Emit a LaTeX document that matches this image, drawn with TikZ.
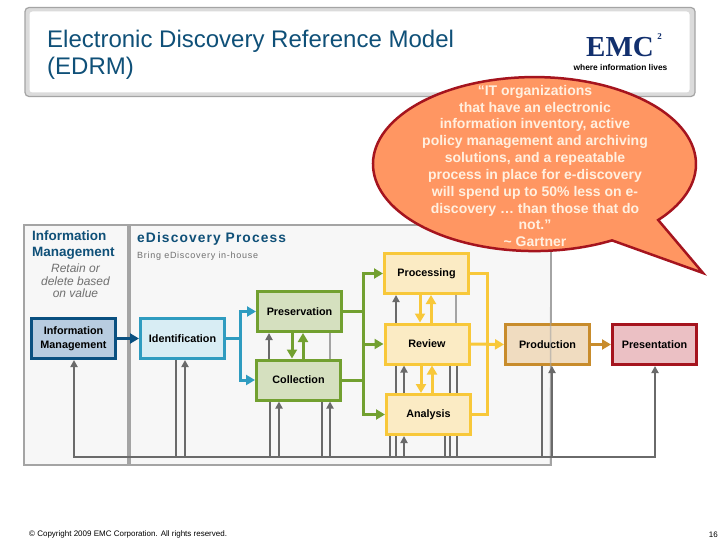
\documentclass[tikz,border=0pt]{standalone}
\usepackage{fontspec}
\setmainfont{Liberation Sans}
\newfontfamily\logofont{Liberation Serif}
\newfontfamily\spacedfont[LetterSpace=8]{Liberation Sans}
\usepackage{xcolor}
\usetikzlibrary{arrows.meta, positioning, calc}

\definecolor{headblue}{HTML}{0F5078}
\definecolor{sigGrey}{HTML}{6A6A6A}
\definecolor{panelGrey}{HTML}{A4A4A4}
\definecolor{noteGrey}{HTML}{707070}
\definecolor{logoBlue}{HTML}{12306E}
\definecolor{infoDraw}{HTML}{0A5080}
\definecolor{infoFill}{HTML}{B8CCE0}
\definecolor{identDraw}{HTML}{2F9CC0}
\definecolor{identFill}{HTML}{D8EDF4}
\definecolor{greenDraw}{HTML}{72A030}
\definecolor{greenFill}{HTML}{D5E0BF}
\definecolor{yellowDraw}{HTML}{F8C83A}
\definecolor{yellowFill}{HTML}{FBEBC4}
\definecolor{prodDraw}{HTML}{C88C2C}
\definecolor{prodFill}{HTML}{F0DCC0}
\definecolor{quoteRed}{HTML}{A5141E}
\definecolor{presFill}{HTML}{EBC0C4}
\definecolor{quoteFill}{HTML}{FF9662}
\definecolor{quoteText}{HTML}{FFF0E0}

\tikzset{
    stagebox/.style={draw, line width=3pt, minimum width=84pt, minimum height=40pt, inner sep=0pt,
        align=center, text=black, font=\fontsize{10.8}{13.5}\selectfont\bfseries},
    panelbox/.style={draw=panelGrey, line width=1.5pt, fill=black!3, inner sep=0pt},
    sigline/.style={draw=sigGrey, line width=2.4pt},
    sigarrow/.style={sigline, -{Triangle[length=7pt, width=7pt]}},
    palearrow/.style={draw=panelGrey, line width=2.4pt},
    flow/.style={line width=3pt, -{Triangle[length=9pt, width=10pt]}},
    flowline/.style={line width=3pt}
}

\begin{document}
\begin{tikzpicture}[x=1pt, y=-1pt]
    \useasboundingbox (0,0) rectangle (720,540);
    \fill[white] (0,0) rectangle (720,540);

    % TITLE BAR
    \node (TitleBar) [draw=panelGrey, line width=1.2pt, fill=black!14, rounded corners=4pt,
        minimum width=670pt, minimum height=89pt, inner sep=0pt] at (360,52) {};
    \node (TitleInner) [fill=white, rounded corners=3pt, minimum width=660pt, minimum height=81pt,
        inner sep=0pt] at (359.5,52) {};
    \node (Title) [anchor=west, align=left, text=headblue, inner sep=0pt, font=\fontsize{24}{27}\selectfont] at (47,54.5)
        {Electronic Discovery Reference Model\\(EDRM)};
    \node (Logo) [text=logoBlue, font=\logofont\bfseries\fontsize{29}{29}\selectfont, inner sep=0pt]
        at (620,47.5) {EMC};
    \node (LogoTwo) [text=logoBlue, font=\logofont\bfseries\fontsize{9}{9}\selectfont, inner sep=0pt]
        at (659.5,37) {2};
    \node (Tagline) [font=\bfseries\fontsize{8.4}{9}\selectfont, inner sep=0pt] at (620.5,67) {where information lives};

    % PANELS
    \node (InfoPanel) [panelbox, minimum width=104pt, minimum height=240pt] at (76,345) {};
    \node (ProcPanel) [panelbox, minimum width=421pt, minimum height=240pt] at (340.5,345) {};
    \node (InfoHead) [anchor=north west, align=left, text=headblue, font=\bfseries\fontsize{13.5}{16}\selectfont,
        inner sep=0pt] at (32,230.5) {Information\\Management};
    \node (InfoNote) [anchor=north, align=center, text=noteGrey, font=\itshape\fontsize{12}{12.8}\selectfont,
        inner sep=0pt] at (75.5,263.5) {Retain or\\delete based\\on value};
    \node (ProcHead) [anchor=west, text=headblue, font=\spacedfont\bfseries\fontsize{13.8}{15}\selectfont, inner sep=0pt]
        at (137,238.5) {eDiscovery Process};
    \node (ProcNote) [anchor=west, text=noteGrey, font=\spacedfont\fontsize{9}{10}\selectfont, inner sep=0pt]
        at (137,256) {Bring eDiscovery in-house};

    % STAGES
    \node (Info) [stagebox, draw=infoDraw, fill=infoFill] at (73.5,338.5) {Information\\Management};
    \node (Ident) [stagebox, draw=identDraw, fill=identFill] at (182.5,338.5) {Identification};
    \node (Preserve) [stagebox, draw=greenDraw, fill=greenFill] at (299.5,311.5) {Preservation};
    \node (Collect) [stagebox, draw=greenDraw, fill=greenFill] at (298.5,380) {Collection};
    \node (Process) [stagebox, draw=yellowDraw, fill=yellowFill] at (426.5,273.5) {Processing};
    \node (Review) [stagebox, draw=yellowDraw, fill=yellowFill] at (427,344) {Review};
    \node (Analysis) [stagebox, draw=yellowDraw, fill=yellowFill] at (428.5,414.5) {Analysis};
    \node (Product) [stagebox, draw=prodDraw, fill=prodFill] at (547.5,344.5) {Production};
    \node (Present) [stagebox, draw=quoteRed, fill=presFill] at (654.5,344.5) {Presentation};

    % panel edge shows through Production
    \draw[draw=panelGrey, line width=1.5pt, opacity=0.6] (ProcPanel.north east) ++(-0.75,0) -- (ProcPanel.south east -| 550.25,0);

    % GREY SIGNAL LINES
    \foreach \x in {74,176,185,269,270,279,322,330,390,396,404,445,450,456,457,542,552,655}
        \coordinate (tap\x) at (\x,457);
    \draw[sigline, line cap=rect] (tap74) -- (tap655);
    \foreach \n/\x in {Ident/176, Collect/270, Collect/322, Analysis/390, Analysis/396, Analysis/445, Analysis/450, Analysis/457, Product/542}
        \draw[sigline] (\n.south -| tap\x) -- (tap\x);
    \foreach \n/\x in {Info/74, Ident/185, Collect/279, Collect/330, Analysis/404, Product/552, Present/655}
        \draw[sigarrow] (tap\x) -- (\n.south -| tap\x);
    \draw[sigarrow] (Collect.north -| tap269) -- (Preserve.south -| tap269);
    \draw[palearrow] (Preserve.south -| tap330) -- (Collect.north -| tap330);
    \draw[sigarrow] (Review.north -| tap396) -- (Process.south -| tap396);
    \draw[palearrow] (Process.south -| tap456) -- (Review.north -| tap456);
    \draw[sigline] (Review.south -| tap396) -- (Analysis.north -| tap396);
    \draw[sigarrow] (Analysis.north -| tap404) -- (Review.south -| tap404);
    \draw[sigline] (Review.south -| tap450) -- (Analysis.north -| tap450);
    \draw[sigline] (Review.south -| tap457) -- (Analysis.north -| tap457);

    % FLOW ARROWS
    \coordinate (BlueTurn) at (240,338.5);
    \coordinate (GreenTurn) at (363,344);
    \coordinate (YellowTurn) at (487,344);
    \coordinate (GreenDown) at (292,345);
    \coordinate (GreenUp) at (303,345);
    \coordinate (YellowDownA) at (420,300);
    \coordinate (YellowUpA) at (431,300);
    \coordinate (YellowDownB) at (421,380);
    \coordinate (YellowUpB) at (432,380);

    \draw[flow, draw=infoDraw] (Info.east) -- (Ident.west);
    \draw[flow, draw=identDraw] (Ident.east) -- (BlueTurn) |- (Preserve.west);
    \draw[flow, draw=identDraw] (BlueTurn) |- (Collect.west);

    \draw[flow, draw=greenDraw] (Preserve.south -| GreenDown) -- (Collect.north -| GreenDown);
    \draw[flow, draw=greenDraw] (Collect.north -| GreenUp) -- (Preserve.south -| GreenUp);
    \draw[flowline, draw=greenDraw] (Preserve.east) -| (GreenTurn);
    \draw[flowline, draw=greenDraw] (Collect.east) -| (GreenTurn);
    \draw[flow, draw=greenDraw] (GreenTurn) |- (Process.west);
    \draw[flow, draw=greenDraw] (GreenTurn) -- (Review.west);
    \draw[flow, draw=greenDraw] (GreenTurn) |- (Analysis.west);

    \draw[flow, draw=yellowDraw] (Process.south -| YellowDownA) -- (Review.north -| YellowDownA);
    \draw[flow, draw=yellowDraw] (Review.north -| YellowUpA) -- (Process.south -| YellowUpA);
    \draw[flow, draw=yellowDraw] (Review.south -| YellowDownB) -- (Analysis.north -| YellowDownB);
    \draw[flow, draw=yellowDraw] (Analysis.north -| YellowUpB) -- (Review.south -| YellowUpB);
    \draw[flowline, draw=yellowDraw] (Process.east) -| (YellowTurn);
    \draw[flowline, draw=yellowDraw] (Analysis.east) -| (YellowTurn);
    \draw[flow, draw=yellowDraw] (Review.east) -- (Product.west);

    \draw[flow, draw=prodDraw] (Product.east) -- (Present.west);

    % QUOTE BUBBLE
    \draw[draw=quoteRed, fill=quoteFill, line width=2.5pt, line join=miter]
        (658.2,220) arc[start angle=40, end angle=-298.7, x radius=161.5, y radius=87]
        -- (703,273) -- cycle;
    \node (Quote) [align=center, text=quoteText, font=\bfseries\fontsize{14}{16.85}\selectfont, inner sep=0pt] at (535,166)
        {``IT organizations\\that have an electronic\\information inventory, active\\policy management and archiving\\solutions, and a repeatable\\process in place for e-discovery\\will spend up to 50\% less on e-\\discovery \dots\ than those that do\\not.''\\\textasciitilde\ Gartner};

    % FOOTER
    \node (Copyright) [anchor=west, font=\fontsize{8}{9}\selectfont, inner sep=0pt] at (29,534) {\textcopyright\ Copyright 2009 EMC Corporation. All rights reserved.};
    \node (PageNo) [anchor=east, font=\fontsize{8}{9}\selectfont, inner sep=0pt] at (718,535) {16};
\end{tikzpicture}
\end{document}
